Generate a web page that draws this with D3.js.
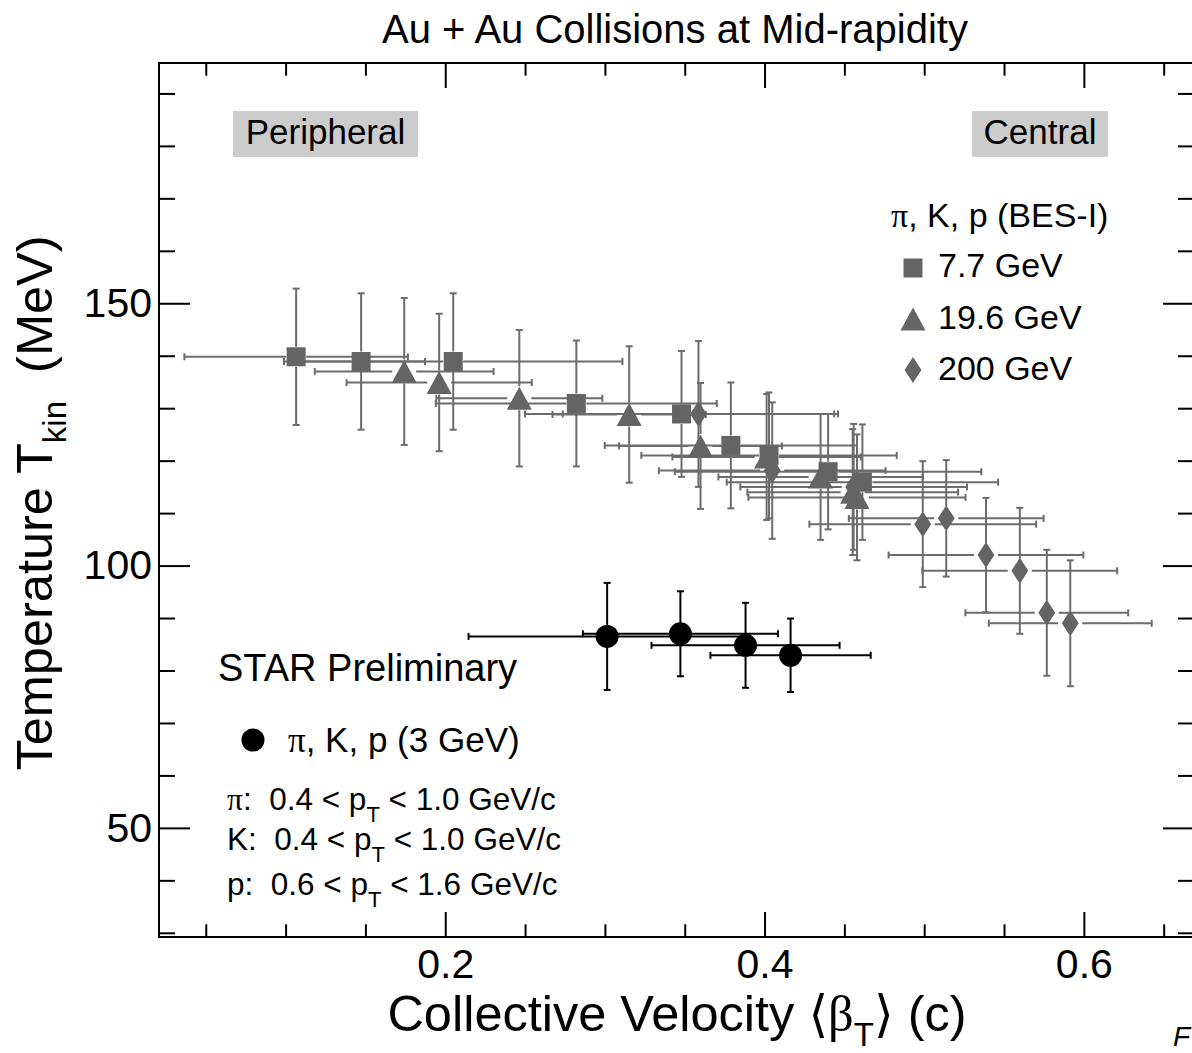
<!DOCTYPE html>
<html><head><meta charset="utf-8">
<script src="https://cdn.jsdelivr.net/npm/d3@7"></script>
<style>
body{margin:0;background:#fff;}
svg{display:block;}
text{font-family:"Liberation Sans",Arial,Helvetica,sans-serif;fill:#000;white-space:pre;}
.sym{font-family:"Liberation Serif","DejaVu Serif",serif;}
</style></head><body>
<svg id="c" width="1192" height="1053"></svg>
<script>
// ---------------- data ----------------
const beta_7p7    = [0.1066,0.1473,0.2050,0.2821,0.3480,0.3789,0.4028,0.4398,0.4613];
const betaErr_7p7 = [0.070,0.040,0.106,0.088,0.098,0.079,0.080,0.096,0.085];
const temp_7p7    = [139.8,138.9,138.9,130.9,128.9,122.9,121.0,117.9,115.9];
const tempErr_7p7 = [13.0,13.0,13.0,12.0,12.0,12.0,12.0,11.0,11.0];

const beta_19p6    = [0.1743,0.1962,0.2464,0.3152,0.3599,0.4013,0.4351,0.4552,0.4579];
const betaErr_19p6 = [0.056,0.058,0.052,0.048,0.051,0.059,0.064,0.066,0.068];
const temp_19p6    = [137.0,134.9,131.9,128.8,122.8,120.7,116.9,114.0,113.0];
const tempErr_19p6 = [14.0,13.1,13.0,13.0,12.0,12.0,12.0,12.0,12.0];

const beta_200    = [0.3586,0.4048,0.4558,0.4991,0.5138,0.5387,0.5599,0.5768,0.5915];
const betaErr_200 = [0.085,0.071,0.071,0.071,0.061,0.061,0.061,0.051,0.051];
const temp_200    = [128.9,118.1,115.0,107.9,109.0,102.0,99.0,91.0,89.0];
const tempErr_200 = [13.9,13.0,12.0,12.0,11.1,10.9,12.0,12.0,12.0];

const beta_3    = [0.3014,0.3473,0.3881,0.4163];
const betaErr_3 = [0.0868,0.0611,0.0589,0.0502];
const temp_3    = [86.5,87.0,84.8,82.9];
const tempErr_3 = [10.2,8.1,8.1,7.0];

const xMajorTicks = [0.2,0.4,0.6];
const xMinorTicks = [0.05,0.1,0.15,0.25,0.3,0.35,0.45,0.5,0.55,0.65];
const yMajorTicks = [50,100,150];
const yMinorTicks = [30,40,60,70,80,90,110,120,130,140,160,170,180,190];
const xDomain = [0.0207,0.669];
const yDomain = [29.2,195.8];

// ---------------- layout ----------------
const L=159, R=1194, T=63, B=937;
const svg = d3.select("#c");
const x = d3.scaleLinear().domain(xDomain).range([L,R]);
const y = d3.scaleLinear().domain(yDomain).range([B,T]);

const GREY="#646464";

// axes (ticks inward)
function axisG(axis, tx, ty){
  const g = svg.append("g").attr("transform",`translate(${tx},${ty})`).call(axis);
  g.select(".domain").remove();
  g.selectAll(".tick line").attr("stroke","#000").attr("stroke-width",2);
  return g;
}
const xb = axisG(d3.axisBottom(x).tickValues(xMajorTicks).tickSizeInner(-25).tickSizeOuter(0).tickPadding(12).tickFormat(d3.format(".1f")),0,B);
xb.selectAll("text").attr("font-size",41).attr("font-family","Liberation Sans, Arial, sans-serif");
axisG(d3.axisBottom(x).tickValues(xMinorTicks).tickSizeInner(-12.7).tickSizeOuter(0).tickFormat(""),0,B);
axisG(d3.axisTop(x).tickValues(xMajorTicks).tickSizeInner(-25).tickSizeOuter(0).tickFormat(""),0,T);
axisG(d3.axisTop(x).tickValues(xMinorTicks).tickSizeInner(-12.7).tickSizeOuter(0).tickFormat(""),0,T);
const yl = axisG(d3.axisLeft(y).tickValues(yMajorTicks).tickSizeInner(-31).tickSizeOuter(0).tickPadding(7),L,0);
yl.selectAll("text").attr("font-size",41).attr("font-family","Liberation Sans, Arial, sans-serif");
axisG(d3.axisLeft(y).tickValues(yMinorTicks).tickSizeInner(-16).tickSizeOuter(0).tickFormat(""),L,0);
axisG(d3.axisRight(y).tickValues(yMajorTicks).tickSizeInner(-31).tickSizeOuter(0).tickFormat(""),R,0);
axisG(d3.axisRight(y).tickValues(yMinorTicks).tickSizeInner(-16).tickSizeOuter(0).tickFormat(""),R,0);

svg.append("rect").attr("x",L).attr("y",T).attr("width",R-L).attr("height",B-T)
  .attr("fill","none").attr("stroke","#000").attr("stroke-width",2);

// labels boxes
function box(x0,y0,w,h,label,cx,by){
  svg.append("rect").attr("x",x0).attr("y",y0).attr("width",w).attr("height",h).attr("fill","#cccccc");
  svg.append("text").attr("x",cx).attr("y",by).attr("text-anchor","middle").attr("font-size",35).text(label);
}
box(233,111,185,46,"Peripheral",325.5,144);
box(972,111,136,46,"Central",1040,144);

// ---------------- marker types ----------------
const sqType = {draw(ctx,size){const h=Math.sqrt(size)/2;ctx.moveTo(-h,-h);ctx.lineTo(h,-h);ctx.lineTo(h,h);ctx.lineTo(-h,h);ctx.closePath();}};
const triType = {draw(ctx,size){const w=Math.sqrt(size)/2,hh=w*0.92;ctx.moveTo(0,-hh);ctx.lineTo(w,hh);ctx.lineTo(-w,hh);ctx.closePath();}};
const diaType = {draw(ctx,size){const h=Math.sqrt(size)/2,w=h*0.65;ctx.moveTo(0,-h);ctx.lineTo(w,0);ctx.lineTo(0,h);ctx.lineTo(-w,0);ctx.closePath();}};

function series(bx,bxe,ty,tye,color,gap,cap,sw){
  const pts = bx.map((b,i)=>({b,be:bxe[i],t:ty[i],te:tye[i]}));
  const segs=[];
  pts.forEach(p=>{
    const cx=x(p.b), cy=y(p.t), x0=x(p.b-p.be), x1=x(p.b+p.be), y0=y(p.t+p.te), y1=y(p.t-p.te);
    if(cx-gap>x0) segs.push([x0,cy,cx-gap,cy]);
    if(x1>cx+gap) segs.push([cx+gap,cy,x1,cy]);
    if(cy-gap>y0) segs.push([cx,y0,cx,cy-gap]);
    if(y1>cy+gap) segs.push([cx,cy+gap,cx,y1]);
    segs.push([x0,cy-cap,x0,cy+cap],[x1,cy-cap,x1,cy+cap],[cx-cap,y0,cx+cap,y0],[cx-cap,y1,cx+cap,y1]);
  });
  const g=svg.append("g");
  g.selectAll("line").data(segs).join("line")
    .attr("x1",d=>d[0]).attr("y1",d=>d[1]).attr("x2",d=>d[2]).attr("y2",d=>d[3])
    .attr("stroke",color).attr("stroke-width",sw);
  return pts;
}
function markers(pts,type,size,color){
  svg.append("g").selectAll("path").data(pts).join("path")
    .attr("transform",d=>`translate(${x(d.b)},${y(d.t)})`)
    .attr("d",d3.symbol().type(type).size(size)).attr("fill",color);
}
const p77 = series(beta_7p7,betaErr_7p7,temp_7p7,tempErr_7p7,"#6c6c6c",10,3.5,2);
const p196 = series(beta_19p6,betaErr_19p6,temp_19p6,tempErr_19p6,"#6c6c6c",12,3.5,2);
const p200 = series(beta_200,betaErr_200,temp_200,tempErr_200,"#6c6c6c",12,3.5,2);
markers(p196,triType,625,GREY);
markers(p77,sqType,361,GREY);
markers(p200,diaType,676,GREY);
const p3 = series(beta_3,betaErr_3,temp_3,tempErr_3,"#000",11,3.5,2);
markers(p3,d3.symbolCircle,415,"#000");

// ---------------- legend ----------------
const lg = svg.append("g");
const t0 = lg.append("text").attr("x",891).attr("y",227).attr("font-size",34);
t0.append("tspan").attr("class","sym").text("\u03C0");
t0.append("tspan").text(", K, p (BES-I)");
const legItems=[{type:sqType,size:361,label:"7.7 GeV",y:268,by:277},
                {type:triType,size:625,label:"19.6 GeV",y:319,by:329},
                {type:diaType,size:676,label:"200 GeV",y:370,by:380}];
lg.selectAll("path").data(legItems).join("path")
  .attr("transform",d=>`translate(913,${d.y})`)
  .attr("d",d=>d3.symbol().type(d.type).size(d.size)()).attr("fill",GREY);
lg.selectAll("text.li").data(legItems).join("text").attr("class","li")
  .attr("x",938).attr("y",d=>d.by).attr("font-size",34).text(d=>d.label);

svg.append("text").attr("x",218).attr("y",681).attr("font-size",38).text("STAR Preliminary");
svg.append("path").attr("transform","translate(253,740)").attr("d",d3.symbol().type(d3.symbolCircle).size(415)()).attr("fill","#000");
const t3 = svg.append("text").attr("x",288).attr("y",752).attr("font-size",35);
t3.append("tspan").attr("class","sym").text("\u03C0");
t3.append("tspan").text(", K, p (3 GeV)");

const ptRows=[{pre:"\u03C0",sym:true,lo:"0.4",hi:"1.0",by:810},
              {pre:"K",sym:false,lo:"0.4",hi:"1.0",by:850},
              {pre:"p",sym:false,lo:"0.6",hi:"1.6",by:895}];
ptRows.forEach(r=>{
  const t=svg.append("text").attr("x",227).attr("y",r.by).attr("font-size",31.5);
  t.append("tspan").attr("class",r.sym?"sym":null).text(r.pre);
  t.append("tspan").text(":  "+r.lo+" < p");
  t.append("tspan").attr("font-size",22).attr("dy",12).text("T");
  t.append("tspan").attr("dy",-12).text(" < "+r.hi+" GeV/c");
});

// ---------------- titles ----------------
svg.append("text").attr("x",675).attr("y",43).attr("text-anchor","middle").attr("font-size",40)
  .text("Au + Au Collisions at Mid-rapidity");

const xt = svg.append("text").attr("x",677).attr("y",1031).attr("text-anchor","middle").attr("font-size",50.5);
xt.append("tspan").text("Collective Velocity ");
xt.append("tspan").attr("class","sym").text("\u27E8\u03B2");
xt.append("tspan").attr("font-size",33).attr("dy",15).text("T");
xt.append("tspan").attr("class","sym").attr("dy",-15).text("\u27E9");
xt.append("tspan").text(" (c)");

const yt = svg.append("text").attr("transform","translate(52,503) rotate(-90)").attr("text-anchor","middle").attr("font-size",50.5);
yt.append("tspan").text("Temperature T");
yt.append("tspan").attr("font-size",33).attr("dy",14).text("kin");
yt.append("tspan").attr("dy",-14).text("  (MeV)");

svg.append("text").attr("x",1173).attr("y",1046).attr("font-size",28)
  .attr("font-family","Liberation Serif, serif").attr("font-style","italic").text("F");
</script>
</body></html>
